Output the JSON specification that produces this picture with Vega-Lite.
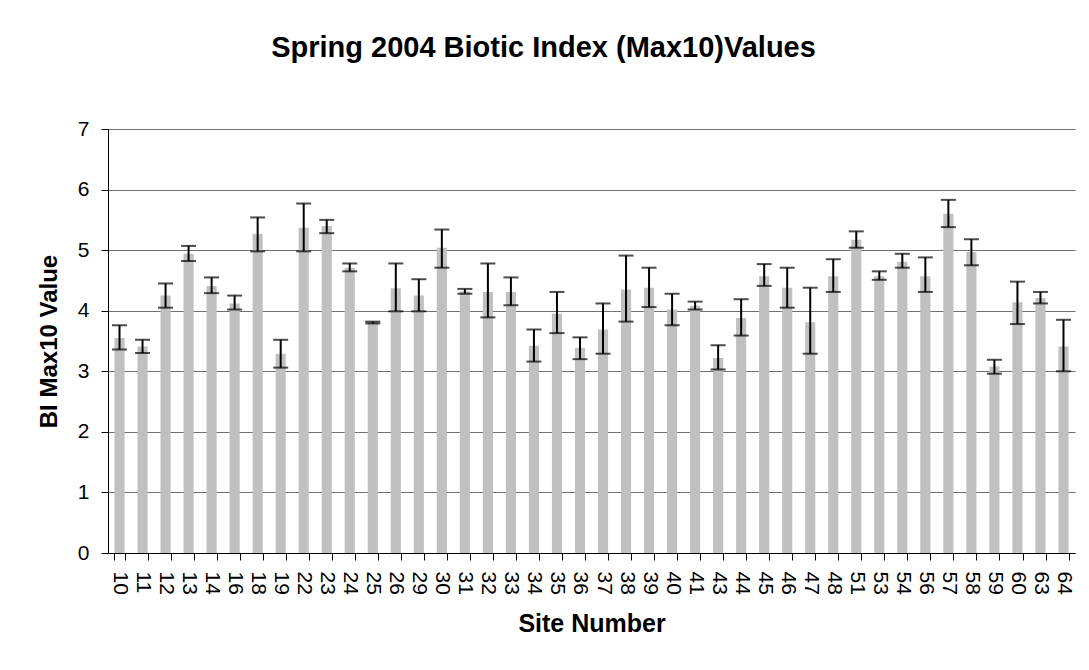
{
  "$schema": "https://vega.github.io/schema/vega-lite/v6.json",
  "autosize": {"type": "none"},
  "width": 967,
  "height": 424,
  "padding": {"left": 108, "top": 129, "right": 14, "bottom": 117},
  "background": "white",
  "title": {
    "text": "Spring 2004 Biotic Index (Max10)Values",
    "fontSize": 29,
    "font": "Liberation Sans",
    "fontWeight": "bold",
    "color": "black",
    "anchor": "middle",
    "dx": -48,
    "offset": 55
  },
  "data": {
    "values": [
      {"site": "10", "value": 3.55, "lo": 3.36, "hi": 3.76},
      {"site": "11", "value": 3.41, "lo": 3.30, "hi": 3.52},
      {"site": "12", "value": 4.25, "lo": 4.05, "hi": 4.45},
      {"site": "13", "value": 4.94, "lo": 4.82, "hi": 5.07},
      {"site": "14", "value": 4.41, "lo": 4.29, "hi": 4.55},
      {"site": "16", "value": 4.12, "lo": 4.02, "hi": 4.25},
      {"site": "18", "value": 5.27, "lo": 4.98, "hi": 5.54},
      {"site": "19", "value": 3.29, "lo": 3.06, "hi": 3.52},
      {"site": "22", "value": 5.37, "lo": 4.98, "hi": 5.77},
      {"site": "23", "value": 5.40, "lo": 5.28, "hi": 5.50},
      {"site": "24", "value": 4.71, "lo": 4.65, "hi": 4.78},
      {"site": "25", "value": 3.81, "lo": 3.79, "hi": 3.82},
      {"site": "26", "value": 4.37, "lo": 3.99, "hi": 4.78},
      {"site": "29", "value": 4.25, "lo": 3.99, "hi": 4.52},
      {"site": "30", "value": 5.04, "lo": 4.71, "hi": 5.34},
      {"site": "31", "value": 4.32, "lo": 4.28, "hi": 4.36},
      {"site": "32", "value": 4.31, "lo": 3.89, "hi": 4.78},
      {"site": "33", "value": 4.31, "lo": 4.09, "hi": 4.55},
      {"site": "34", "value": 3.42, "lo": 3.16, "hi": 3.69},
      {"site": "35", "value": 3.95, "lo": 3.63, "hi": 4.31},
      {"site": "36", "value": 3.39, "lo": 3.20, "hi": 3.56},
      {"site": "37", "value": 3.69, "lo": 3.29, "hi": 4.12},
      {"site": "38", "value": 4.35, "lo": 3.82, "hi": 4.91},
      {"site": "39", "value": 4.38, "lo": 4.06, "hi": 4.71},
      {"site": "40", "value": 4.02, "lo": 3.76, "hi": 4.28},
      {"site": "41", "value": 4.08, "lo": 4.02, "hi": 4.15},
      {"site": "43", "value": 3.22, "lo": 3.03, "hi": 3.43},
      {"site": "44", "value": 3.88, "lo": 3.59, "hi": 4.19},
      {"site": "45", "value": 4.57, "lo": 4.41, "hi": 4.77},
      {"site": "46", "value": 4.38, "lo": 4.05, "hi": 4.71},
      {"site": "47", "value": 3.81, "lo": 3.29, "hi": 4.38},
      {"site": "48", "value": 4.57, "lo": 4.31, "hi": 4.85},
      {"site": "51", "value": 5.17, "lo": 5.04, "hi": 5.31},
      {"site": "53", "value": 4.57, "lo": 4.51, "hi": 4.65},
      {"site": "54", "value": 4.81, "lo": 4.71, "hi": 4.94},
      {"site": "56", "value": 4.57, "lo": 4.31, "hi": 4.88},
      {"site": "57", "value": 5.60, "lo": 5.38, "hi": 5.83},
      {"site": "58", "value": 4.97, "lo": 4.75, "hi": 5.18},
      {"site": "59", "value": 3.08, "lo": 2.96, "hi": 3.19},
      {"site": "60", "value": 4.14, "lo": 3.78, "hi": 4.48},
      {"site": "63", "value": 4.21, "lo": 4.12, "hi": 4.31},
      {"site": "64", "value": 3.41, "lo": 3.00, "hi": 3.85}
    ]
  },
  "encoding": {
    "x": {
      "field": "site",
      "type": "nominal",
      "sort": null,
      "scale": {"paddingInner": 0.56, "paddingOuter": 0.28},
      "axis": {
        "title": "Site Number",
        "titleFont": "Liberation Sans",
        "titleFontSize": 25,
        "titleFontWeight": "bold",
        "titleColor": "black",
        "titlePadding": 17,
        "labelAngle": 90,
        "labelFont": "Liberation Sans",
        "labelFontSize": 21,
        "labelColor": "black",
        "labelPadding": 11,
        "tickBand": "extent",
        "tickSize": 7,
        "tickColor": "black",
        "domainColor": "black",
        "grid": false
      }
    }
  },
  "layer": [
    {
      "mark": {"type": "bar", "color": "#C0C0C0"},
      "encoding": {
        "y": {
          "field": "value",
          "type": "quantitative",
          "scale": {"domain": [0, 7], "nice": false},
          "axis": {
            "title": "BI Max10 Value",
            "titleFont": "Liberation Sans",
            "titleFontSize": 24,
            "titleFontWeight": "bold",
            "titleColor": "black",
            "titlePadding": 16,
            "values": [0, 1, 2, 3, 4, 5, 6, 7],
            "format": "d",
            "labelFont": "Liberation Sans",
            "labelFontSize": 21,
            "labelColor": "black",
            "labelPadding": 12,
            "tickSize": 7,
            "tickColor": "black",
            "domainColor": "black",
            "gridColor": "#707070",
            "gridWidth": 1
          }
        }
      }
    },
    {
      "mark": {"type": "rule", "color": "black", "strokeWidth": 2},
      "encoding": {
        "y": {"field": "lo", "type": "quantitative"},
        "y2": {"field": "hi"}
      }
    },
    {
      "mark": {"type": "tick", "color": "black", "thickness": 2, "size": 15, "orient": "horizontal"},
      "encoding": {
        "y": {"field": "lo", "type": "quantitative"}
      }
    },
    {
      "mark": {"type": "tick", "color": "black", "thickness": 2, "size": 15, "orient": "horizontal"},
      "encoding": {
        "y": {"field": "hi", "type": "quantitative"}
      }
    }
  ],
  "config": {
    "view": {"stroke": null},
    "font": "Liberation Sans"
  }
}
